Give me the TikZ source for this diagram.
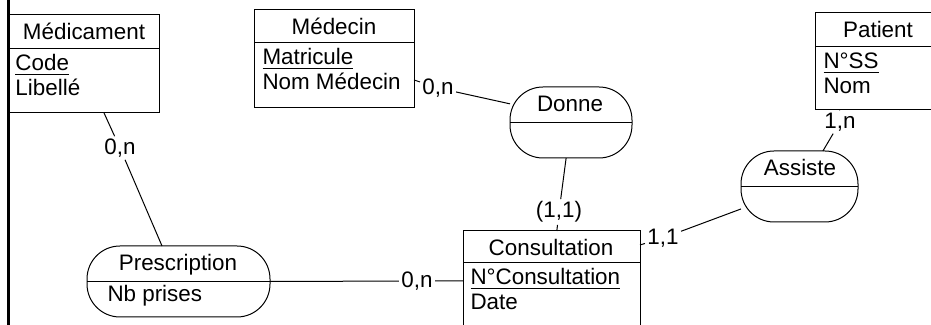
\documentclass[tikz,border=0pt]{standalone}
\usepackage{fontspec}
\setmainfont{Liberation Sans}
\usetikzlibrary{calc}
\begin{document}
\begin{tikzpicture}[x=0.5pt,y=-0.5pt,
  font=\fontsize{11.2}{13.5}\selectfont, line width=0.5pt,
  entbox/.style={draw, anchor=north west, inner sep=0pt, outer sep=0pt},
  assocbox/.style={draw, rounded corners=16.5pt, inner sep=0pt, outer sep=0pt, minimum height=35.5pt},
  ttl/.style={anchor=base, inner sep=0pt},
  attr/.style={anchor=base west, inner sep=0pt},
  card/.style={inner sep=1pt}]
\useasboundingbox (0,0) rectangle (931,325);
\clip (0,0) rectangle (931,325);
% left border
\draw[line width=1.5pt] (8,0) coordinate (lt) -- (8,325) coordinate (lb);

% Medicament
\node[entbox, minimum width=75.5pt, minimum height=49pt] (medic) at (8,15) {};
\draw (medic.west |- 0,49) -- (medic.east |- 0,49);
\node[ttl] (medicT) at (84,40) {Médicament};
\node[attr] (medicA) at (15,71) {\underline{Code}};
\node[attr] (medicB) at (15,96) {Libellé};

% Medecin
\node[entbox, minimum width=80pt, minimum height=49pt] (medecin) at (254,10) {};
\draw (medecin.west |- 0,43) -- (medecin.east |- 0,43);
\node[ttl] (medecinT) at (334,35) {Médecin};
\node[attr] (medecinA) at (262,65) {\underline{Matricule}};
\node[attr] (medecinB) at (262,90) {Nom Médecin};

% Patient
\node[entbox, minimum width=65pt, minimum height=48.5pt] (patient) at (815,13) {};
\draw (patient.west |- 0,47) -- (patient.east |- 0,47);
\node[ttl] (patientT) at (878,38) {Patient};
\node[attr] (patientA) at (823,69) {\underline{N°SS}};
\node[attr] (patientB) at (823,94) {Nom};

% Consultation
\node[entbox, minimum width=88.5pt, minimum height=55pt] (consult) at (463,231) {};
\draw (consult.west |- 0,263) -- (consult.east |- 0,263);
\node[ttl] (consultT) at (551,256) {Consultation};
\node[attr] (consultA) at (470,285) {\underline{N°Consultation}};
\node[attr] (consultB) at (470,310) {Date};

% Associations
\node[assocbox, minimum width=61pt] (donne) at (571,122.5) {};
\draw (donne.west) -- (donne.east);
\node[ttl] (donneT) at (570,112) {Donne};

\node[assocbox, minimum width=58.5pt] (assiste) at (799.5,186.5) {};
\draw (assiste.west) -- (assiste.east);
\node[ttl] (assisteT) at (800,176) {Assiste};

\node[assocbox, minimum width=91.5pt] (presc) at (178.5,281.5) {};
\draw (presc.west) -- (presc.east);
\node[ttl] (prescT) at (178,271) {Prescription};
\node[attr] (prescA) at (107,302) {Nb prises};

% cardinalities
\node[card] (c1) at (120,148) {0,n};
\node[card] (c2) at (417,281) {0,n};
\node[card] (c3) at (438,88) {0,n};
\node[card] (c4) at (559,212) {(1,1)};
\node[card] (c5) at (840,122) {1,n};
\node[card] (c6) at (663,238) {1,1};

% connectors
\draw ($(medic.south west)!0.636!(medic.south east)$) -- (c1) -- ($(presc.north west)!0.41!(presc.north east)$);
\draw (presc.east) -- (c2) -- (c2 -| consult.west);
\draw ($(medecin.north east)!0.714!(medecin.south east)$) -- (c3) -- (donne.163);
\draw ($(donne.south west)!0.46!(donne.south east)$) -- (c4) -- ($(consult.north west)!0.53!(consult.north east)$);
\draw ($(patient.south west)!0.19!(patient.south east)$) -- (c5) -- ($(assiste.north west)!0.70!(assiste.north east)$);
\draw ($(consult.north east)!0.127!(consult.south east)$) -- (c6) -- (assiste.201);
\end{tikzpicture}
\end{document}
